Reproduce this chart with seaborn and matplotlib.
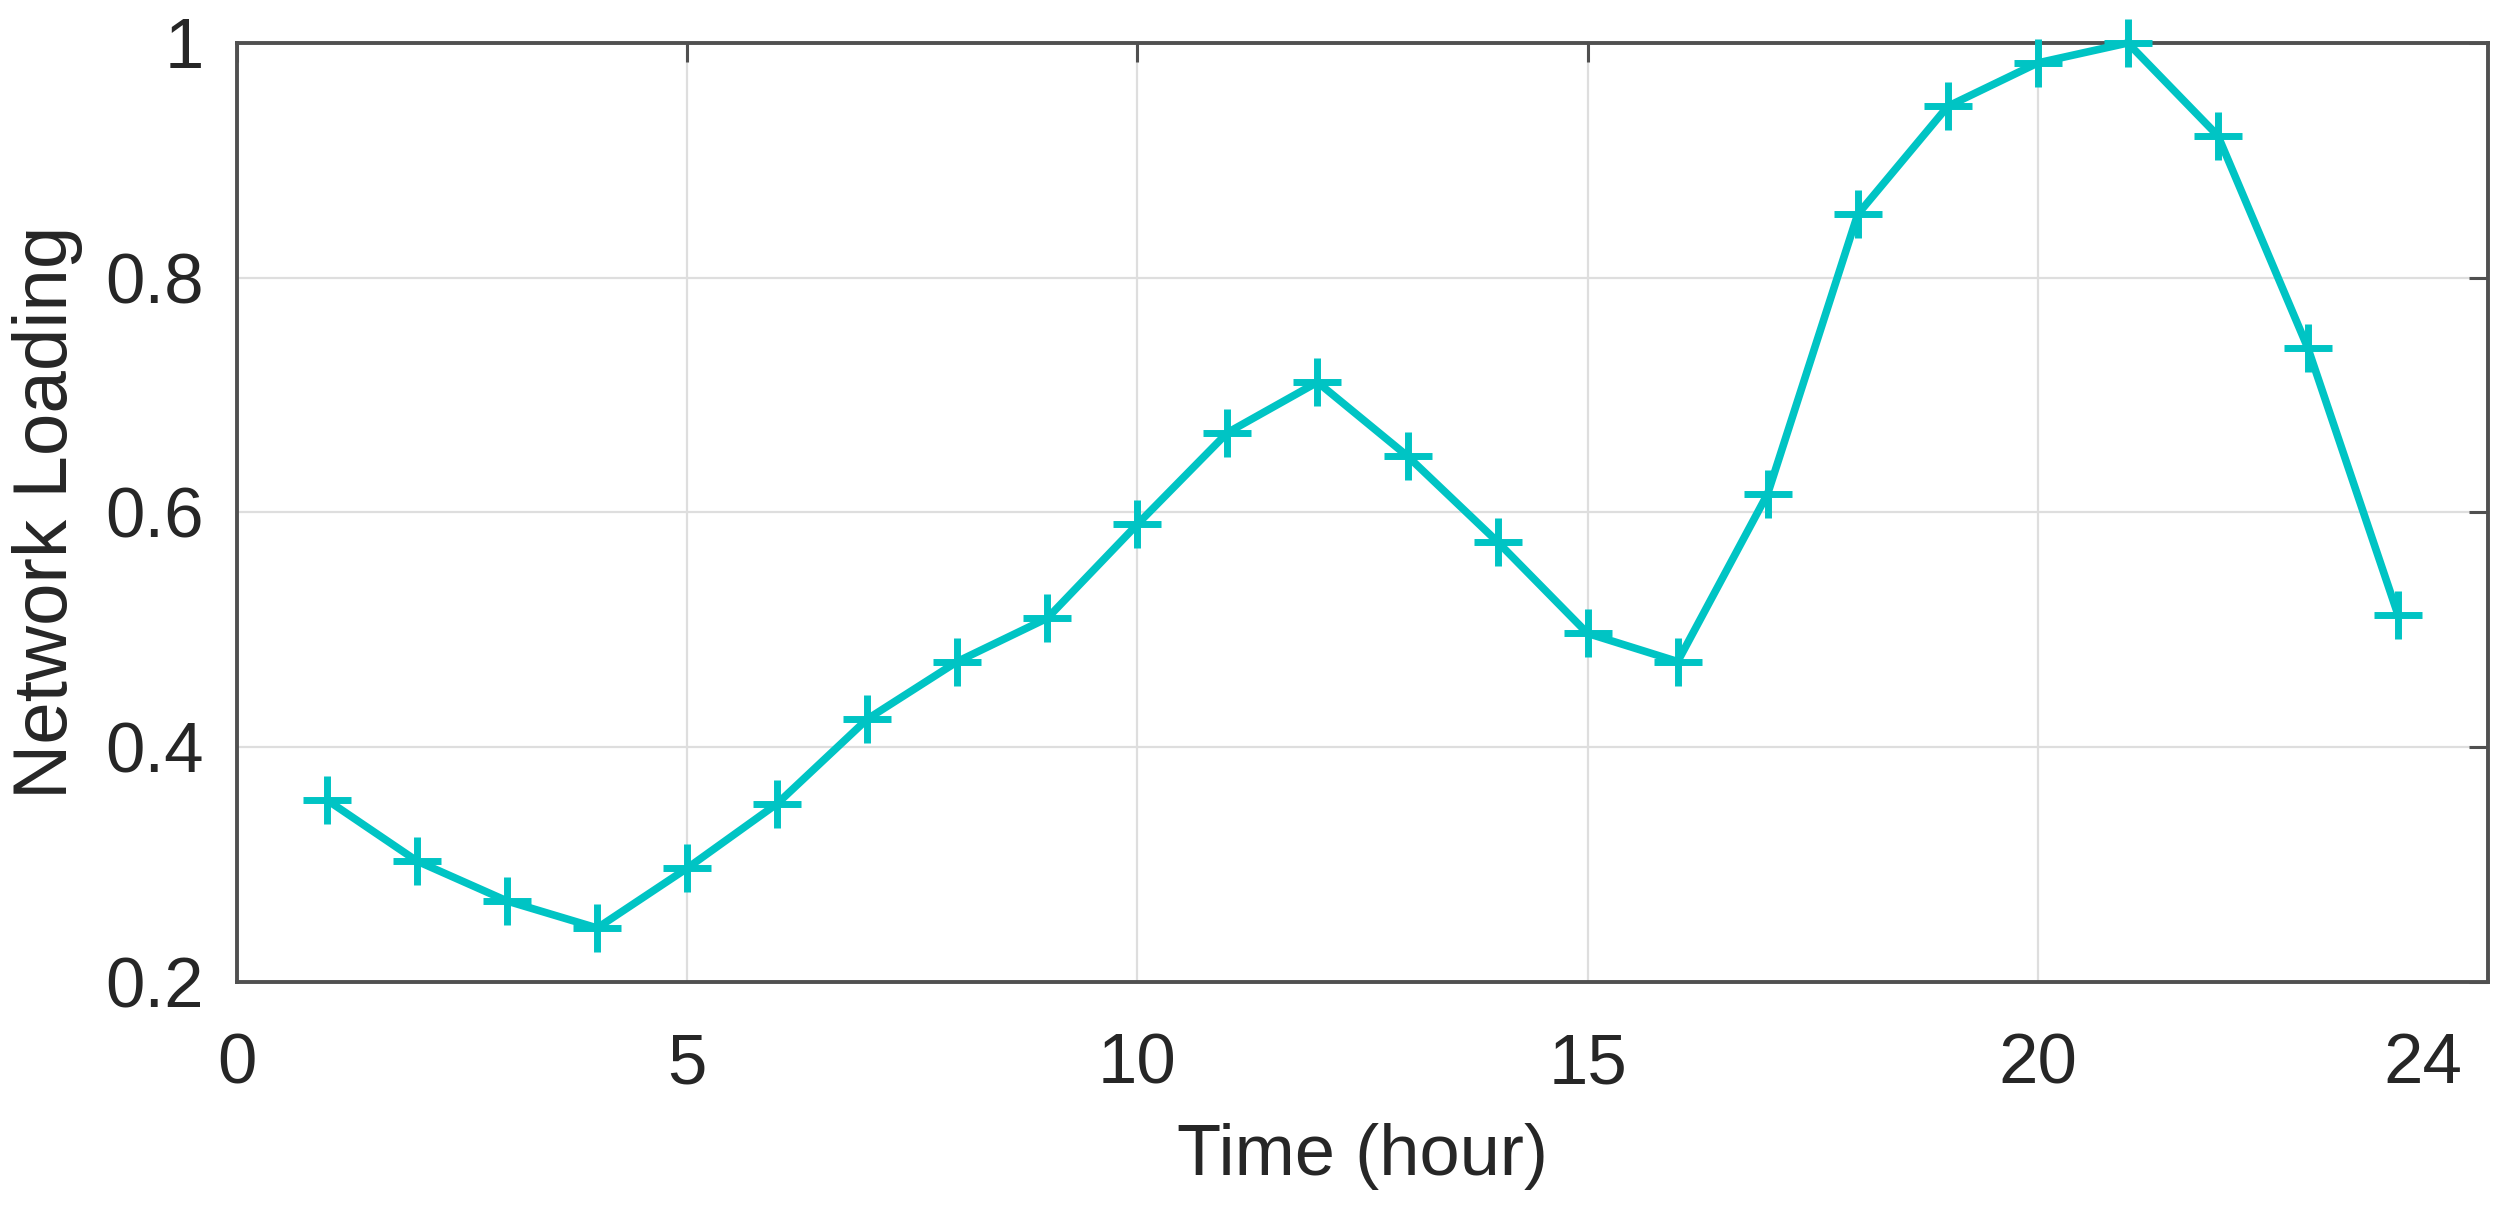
import numpy as np
import pandas as pd
import matplotlib
matplotlib.use("Agg")
import matplotlib.pyplot as plt
import seaborn as sns

# ---- data ----
hours = [1, 2, 3, 4, 5, 6, 7, 8, 9, 10, 11, 12,
         13, 14, 15, 16, 17, 18, 19, 20, 21, 22, 23, 24]
loading = [0.355, 0.303, 0.269, 0.246, 0.297, 0.352, 0.424, 0.473, 0.510, 0.590, 0.668, 0.711,
           0.648, 0.575, 0.497, 0.473, 0.616, 0.854, 0.946, 0.983, 1.000, 0.921, 0.740, 0.513]
x_ticks = [0, 5, 10, 15, 20]
x_tick_labels = ["0", "5", "10", "15", "20"]
end_label_pos = [24.28]
end_label = ["24"]
y_ticks = [0.2, 0.4, 0.6, 0.8, 1.0]
y_tick_labels = ["0.2", "0.4", "0.6", "0.8", "1"]

df = pd.DataFrame({"Time (hour)": hours, "Network Loading": loading})

sns.set_theme(style="white")
plt.rcParams["font.family"] = ["Liberation Sans", "DejaVu Sans"]

txt = "#262626"
axc = "#505050"
line_c = "#00C4C4"

fig = plt.figure(figsize=(25.03, 12.07), dpi=100)
ax = fig.add_axes([0.0947, 0.1864, 0.994 - 0.0947, 0.9644 - 0.1864])

sns.lineplot(data=df, x="Time (hour)", y="Network Loading", ax=ax,
             color=line_c, linewidth=5.5, marker="+", markersize=35,
             markeredgewidth=5.0, markeredgecolor=line_c, clip_on=False, zorder=5)

ax.set_xlim(0, 25)
ax.set_ylim(0.2, 1.0)
ax.set_xticks(x_ticks)
ax.set_xticklabels(x_tick_labels)
ax.set_xticks(end_label_pos, minor=True)
ax.set_xticklabels(end_label, minor=True)
ax.set_yticks(y_ticks)
ax.set_yticklabels(y_tick_labels)

ax.grid(True, which="major", color="#dedede", linewidth=1.6)
ax.set_axisbelow(True)

for s in ax.spines.values():
    s.set_visible(True)
    s.set_color(axc)
    s.set_linewidth(2.8)

ax.tick_params(axis="both", which="major", direction="in", length=14, width=2.2,
               color=axc, labelcolor=txt, labelsize=51,
               top=True, right=True)
ax.tick_params(axis="x", which="major", pad=36)
ax.tick_params(axis="y", which="major", pad=24)
ax.tick_params(axis="x", which="minor", length=0, labelsize=51, labelcolor=txt,
               pad=36, top=False)

ax.set_xlabel("Time (hour)", fontsize=52, color=txt, labelpad=18)
ax.set_ylabel("Network Loading", fontsize=55, color=txt, labelpad=16)

fig.savefig("out.png", dpi=100, facecolor="white")
